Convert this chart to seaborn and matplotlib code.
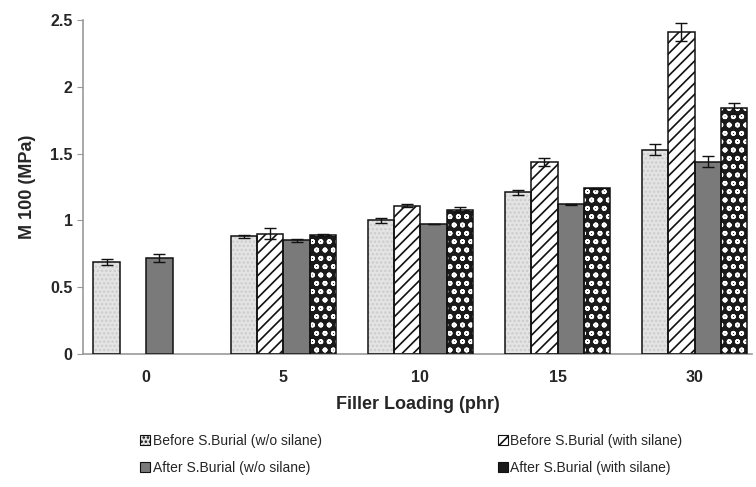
import numpy as np
import pandas as pd
import matplotlib
matplotlib.use("Agg")
import matplotlib.pyplot as plt
from matplotlib.patches import Rectangle
import seaborn as sns

categories = ["0", "5", "10", "15", "30"]
series = ["Before S.Burial (w/o silane)", "Before S.Burial (with silane)",
          "After S.Burial (w/o silane)", "After S.Burial (with silane)"]
before_wo = [0.69, 0.88, 1.00, 1.21, 1.53]
before_wo_err = [0.02, 0.01, 0.02, 0.02, 0.04]
before_with = [np.nan, 0.90, 1.11, 1.44, 2.41]
before_with_err = [np.nan, 0.04, 0.01, 0.03, 0.07]
after_wo = [0.72, 0.85, 0.97, 1.12, 1.44]
after_wo_err = [0.03, 0.01, 0.0, 0.005, 0.04]
after_with = [np.nan, 0.89, 1.08, 1.24, 1.84]
after_with_err = [np.nan, 0.01, 0.02, 0.005, 0.04]

vals = [before_wo, before_with, after_wo, after_with]
errs = [before_wo_err, before_with_err, after_wo_err, after_with_err]

rows = []
for s, v in zip(series, vals):
    for c, y in zip(categories, v):
        if not np.isnan(y):
            rows.append({"cat": c, "series": s, "val": y})
df = pd.DataFrame(rows)

sns.set_style("white")
plt.rcParams['font.family'] = ['Liberation Sans', 'DejaVu Sans']
plt.rcParams['hatch.linewidth'] = 1.2

fig = plt.figure(figsize=(7.56, 4.87), dpi=100)
ax = fig.add_axes([0.110, 0.273, 0.885, 0.686])

palette = ["#e4e4e4", "#ffffff", "#7a7a7a", "#1a1a1a"]
sns.barplot(data=df, x="cat", y="val", hue="series", order=categories,
            hue_order=series, palette=palette, width=0.77, errorbar=None,
            saturation=1, ax=ax, legend=False)

styles = [
    dict(face="#e4e4e4", hatch="....", hcol="#cccccc"),
    dict(face="#ffffff", hatch="///", hcol="#111111"),
    dict(face="#7a7a7a", hatch=None, hcol="#7a7a7a"),
    dict(face="#1a1a1a", hatch="oo", hcol="#ffffff"),
]

bar_containers = list(ax.containers)
for hi, cont in enumerate(bar_containers):
    st = styles[hi]
    for p in cont.patches:
        cx = p.get_x() + p.get_width() / 2
        ci = int(round(cx))
        p.set_facecolor(st["face"])
        p.set_edgecolor(st["hcol"])
        p.set_linewidth(0)
        if st["hatch"]:
            p.set_hatch(st["hatch"])
        ax.add_patch(Rectangle(p.get_xy(), p.get_width(), p.get_height(),
                               fill=False, edgecolor="#111111", linewidth=1.1, zorder=3))
        ax.errorbar(cx, vals[hi][ci], yerr=errs[hi][ci], fmt="none",
                    ecolor="#111111", elinewidth=1.0, capsize=4, capthick=1.0, zorder=4)

ax.set_ylim(0, 2.5)
ax.set_xlim(-0.46, 4.42)
ax.set_yticks([0, 0.5, 1, 1.5, 2, 2.5])
ax.set_yticklabels(["0", "0.5", "1", "1.5", "2", "2.5"])
for sp in ["top", "right"]:
    ax.spines[sp].set_visible(False)
for sp in ["left", "bottom"]:
    ax.spines[sp].set_color("#999999")
    ax.spines[sp].set_linewidth(1.2)
ax.tick_params(axis="y", left=True, length=4, color="#999999", labelsize=11.5)
ax.tick_params(axis="x", bottom=False, labelsize=11.5, pad=8)
for t in ax.get_xticklabels() + ax.get_yticklabels():
    t.set_fontweight("bold")
ax.set_xlabel("Filler Loading (phr)", fontsize=13, fontweight="bold", labelpad=8)
ax.set_ylabel("M 100 (MPa)", fontsize=13, fontweight="bold", labelpad=10)

handles = []
for st in styles:
    handles.append(plt.Rectangle((0, 0), 1, 1, facecolor=st["face"],
                                 edgecolor="#111111",
                                 hatch=st["hatch"] if st["hatch"] != "oo" else None,
                                 linewidth=0.8))
order = [0, 2, 1, 3]
fig.legend([handles[i] for i in order], [series[i] for i in order],
           loc="center", bbox_to_anchor=(0.544, 0.067), ncol=2,
           frameon=False, fontsize=10, handlelength=0.7, handleheight=0.7,
           handletextpad=0.2, columnspacing=12.7, labelspacing=0.9)

fig.savefig("out.png", dpi=100)
